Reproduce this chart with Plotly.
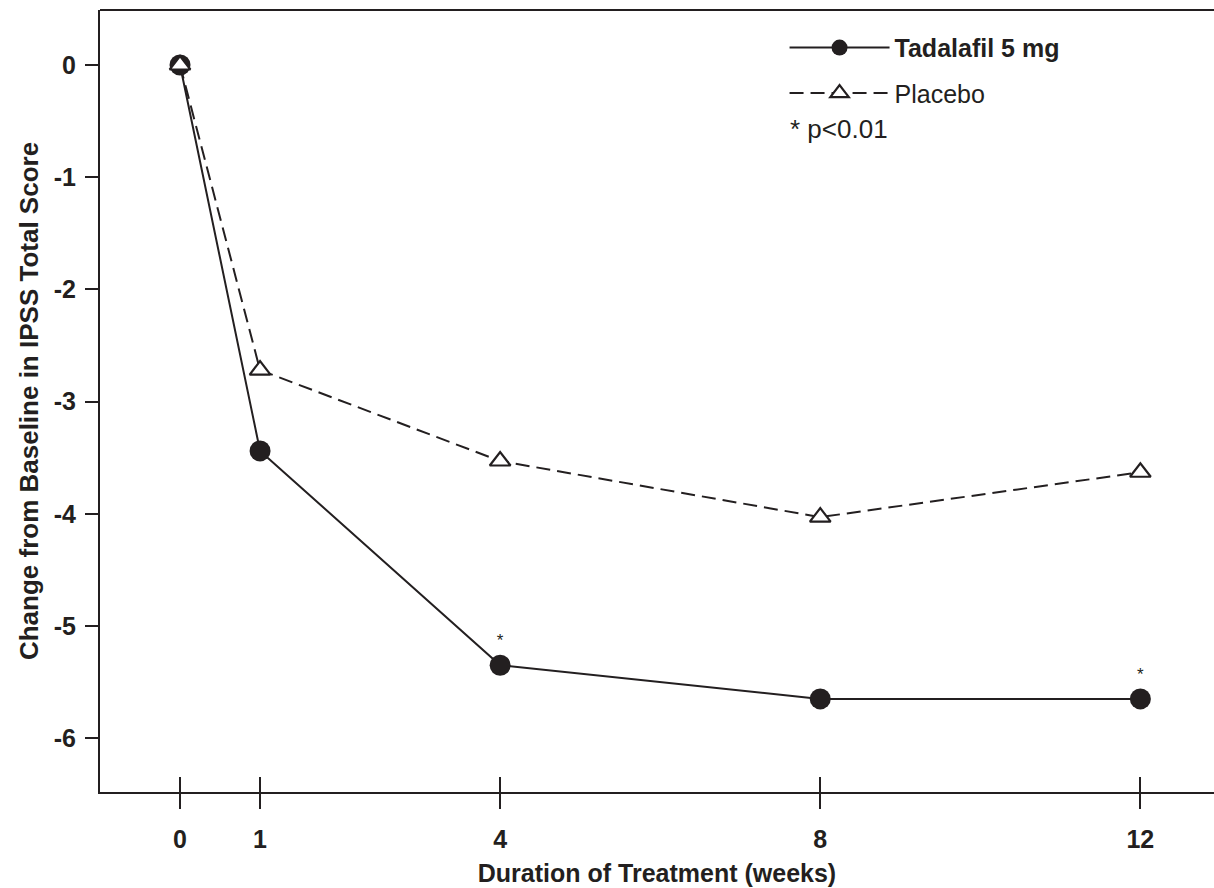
import plotly.graph_objects as go

weeks = [0, 1, 4, 8, 12]
tadalafil = [0, -3.44, -5.35, -5.65, -5.65]
placebo = [0, -2.72, -3.53, -4.03, -3.63]
sig_weeks = [4, 12]
sig_vals = [-5.35, -5.65]
x_ticks = [0, 1, 4, 8, 12]
x_labels = ["0", "1", "4", "8", "12"]
y_ticks = [0, -1, -2, -3, -4, -5, -6]
y_labels = ["0", "-1", "-2", "-3", "-4", "-5", "-6"]

FONT = "Liberation Sans, Arial, sans-serif"
INK = "#231f20"

fig = go.Figure()
fig.add_trace(go.Scatter(
    x=weeks, y=tadalafil, mode="lines+markers", name="<b>Tadalafil 5 mg</b>", legendgroup="a",
    legendrank=1,
    line=dict(color=INK, width=2),
    marker=dict(symbol="circle", size=21, color=INK),
))
fig.add_trace(go.Scatter(
    x=weeks, y=placebo, mode="lines+markers", name="Placebo", legendgroup="b", legendrank=2,
    line=dict(color=INK, width=2, dash="14px,7px"),
    marker=dict(symbol="triangle-up", size=18, color="white", line=dict(width=2.2, color=INK)),
))
fig.add_trace(go.Scatter(
    x=sig_weeks, y=sig_vals, mode="markers+text", text=["*", "*"], textposition="top center",
    marker=dict(size=22, opacity=0),
    textfont=dict(family=FONT, size=17, color=INK), showlegend=False, hoverinfo="skip",
))
# invisible overlay axis for inward ticks
fig.add_trace(go.Scatter(x=[0], y=[0], xaxis="x2", mode="markers", marker=dict(opacity=0),
                         showlegend=False, hoverinfo="skip"))

fig.update_layout(
    width=1214, height=888,
    margin=dict(l=100, r=0, t=10, b=96),
    paper_bgcolor="white", plot_bgcolor="white",
    font=dict(family=FONT, color=INK),
    xaxis=dict(range=[-1.0, 12.92], tickvals=x_ticks, ticktext=x_labels, ticks="outside", ticklen=15,
               tickwidth=2, tickcolor=INK, showline=True, linecolor=INK, linewidth=2, showgrid=False,
               zeroline=False, tickfont=dict(size=25, family=FONT, weight="bold"), ticklabelstandoff=9,
               automargin=False,
               title=dict(text="Duration of Treatment (weeks)",
                          font=dict(size=25, family=FONT, weight="bold"), standoff=12)),
    xaxis2=dict(range=[-1.0, 12.92], overlaying="x", tickvals=x_ticks, ticks="inside", ticklen=15,
                tickwidth=2, tickcolor=INK, showticklabels=False, showgrid=False, zeroline=False,
                showline=False, anchor="y", automargin=False),
    yaxis=dict(range=[-6.48, 0.49], tickvals=y_ticks, ticktext=y_labels, ticks="outside", ticklen=13,
               tickwidth=2, tickcolor=INK, showline=True, linecolor=INK, linewidth=2, showgrid=False,
               zeroline=False, tickfont=dict(size=25, family=FONT, weight="bold"), ticklabelstandoff=4,
               automargin=False,
               title=dict(text="Change from Baseline in IPSS Total Score",
                          font=dict(size=26, family=FONT, weight="bold"), standoff=8)),
    legend=dict(x=0.6145, y=0.981, xanchor="left", yanchor="top", traceorder="grouped",
                font=dict(size=25, family=FONT, color=INK), itemwidth=100, tracegroupgap=10,
                bgcolor="rgba(0,0,0,0)"),
    showlegend=True,
)
fig.add_shape(type="line", xref="paper", yref="paper", x0=0, x1=1, y0=1, y1=1,
              line=dict(color=INK, width=2))
fig.add_annotation(xref="paper", yref="paper", x=0.618, y=0.848, xanchor="left", yanchor="middle",
                   text="* p<0.01", showarrow=False, font=dict(size=26, family=FONT, color=INK))
fig.write_html("out.html", config={"displayModeBar": False},
               post_script="document.body.style.margin='0';")
